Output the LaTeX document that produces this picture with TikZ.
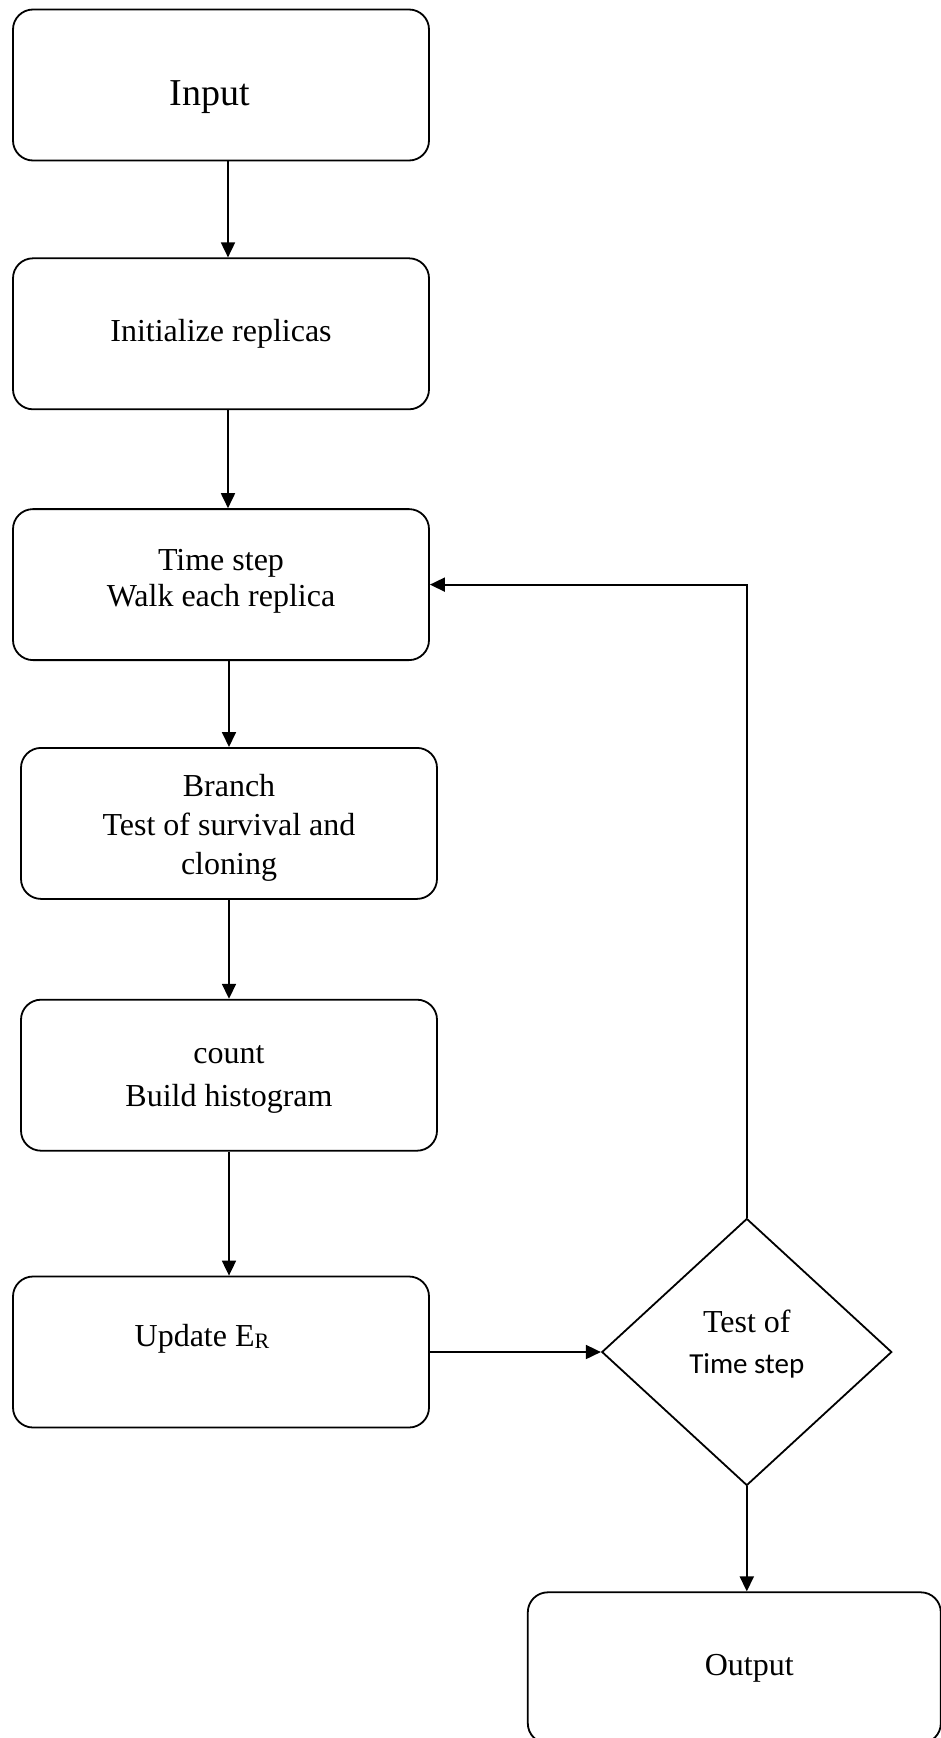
\documentclass[tikz,border=0pt]{standalone}
\usepackage{fontspec}
\setmainfont{Liberation Serif}
\newfontfamily\calibri{Carlito}
\usetikzlibrary{arrows.meta,positioning,shapes.geometric}

\begin{document}
\begin{tikzpicture}[
    x=1pt, y=-1pt,
    box/.style={draw, line width=1.8pt, rounded corners=20pt, align=center,
      minimum width=416pt, minimum height=151pt, inner sep=0pt,
      font=\fontsize{32}{39}\selectfont},
    decision/.style={draw, line width=1.8pt, diamond, aspect=1.086, align=center,
      minimum width=290pt, minimum height=267pt, inner sep=0pt,
      font=\fontsize{32}{39}\selectfont},
    arrow/.style={-{Triangle[length=15pt,width=14pt]}, line width=1.8pt}
  ]
    \useasboundingbox (0,0) rectangle (941,1738);
    \node[box, font=\fontsize{38}{44}\selectfont, text height=49pt] (input) at (221,85)
      {Input\hspace*{22pt}};
    \node[box, below=96pt of input] (init) {Initialize replicas};
    \node[box, below=98pt of init, font=\fontsize{32}{36}\selectfont, text depth=13pt]
      (ts) {Time step\\Walk each replica};
    \node[box, below=86pt of ts, xshift=8pt, text height=110pt] (br) {Branch\\Test of survival and\\cloning};
    \node[box, below=99pt of br, font=\fontsize{32}{43}\selectfont, text height=70pt] (ct) {count\\Build histogram};
    \node[box, below=124pt of ct, xshift=-8pt, text depth=33pt]
      (up) {Update E{\fontsize{22}{22}\selectfont\raisebox{-2pt}{R}}\hspace*{38pt}};
    \node[decision, right=171pt of up, text depth=20pt] (dia)
      {Test of\\[2pt]{\calibri\fontsize{29}{32}\selectfont Time step}};
    \node[box, below=105pt of dia, xshift=-12.5pt, minimum width=413pt] (out) {\hspace*{30pt}Output};
    \draw[arrow] ([xshift=7pt]input.south) -- ([xshift=7pt]init.north);
    \draw[arrow] ([xshift=7pt]init.south) -- ([xshift=7pt]ts.north);
    \draw[arrow] (ts.south -| br.north) -- (br.north);
    \draw[arrow] (br) -- (ct);
    \draw[arrow] (ct.south) -- (ct.south |- up.north);
    \draw[arrow] (up) -- (dia);
    \draw[arrow] (dia.north) |- (ts.east);
    \draw[arrow] (dia.south) -- (dia.south |- out.north);
\end{tikzpicture}
\end{document}
